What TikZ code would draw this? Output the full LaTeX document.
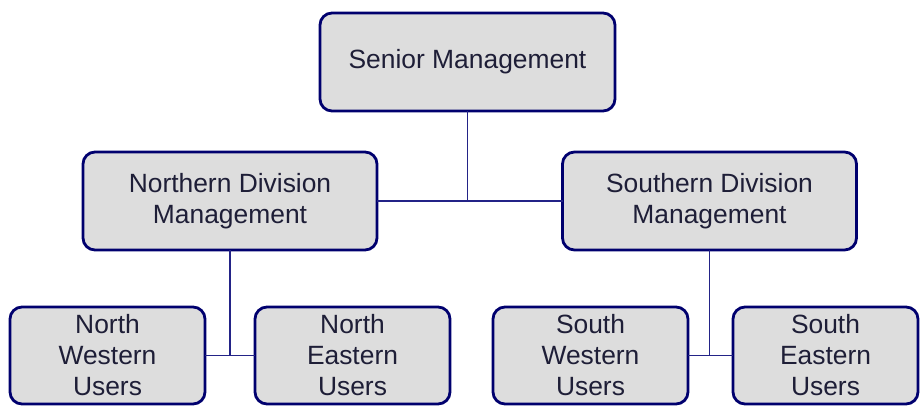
\documentclass[tikz,border=0pt]{standalone}
\usepackage{fontspec}
\setmainfont{Liberation Sans}
\definecolor{boxnavy}{RGB}{0,0,110}
\definecolor{linkblue}{RGB}{35,35,135}
\definecolor{boxgrey}{RGB}{221,221,221}
\definecolor{inkgrey}{RGB}{30,30,55}
\usetikzlibrary{positioning}

\begin{document}
\begin{tikzpicture}[
  orgbox/.style={draw=boxnavy, fill=boxgrey, line width=2.8pt, rounded corners=12pt,
    text=inkgrey, align=center, inner sep=0pt, outer sep=0pt,
    font=\fontsize{26.4}{31}\selectfont},
  topbox/.style={orgbox, minimum width=295pt, minimum height=98pt},
  divbox/.style={orgbox, minimum width=294pt, minimum height=98pt},
  userbox/.style={orgbox, minimum width=195pt, minimum height=97pt},
  link/.style={draw=linkblue, line width=1.8pt},
]
  \useasboundingbox (0,0) rectangle (921pt,-408pt);
  \node[topbox] (senior) at (467.5pt,-62pt) {Senior Management};
  \node[divbox, below=41pt of senior, xshift=-237.5pt] (north) {Northern Division\\Management};
  \node[divbox, below=41pt of senior, xshift=242pt] (south) {Southern Division\\Management};
  \node[userbox, below=57pt of north, xshift=-122.5pt] (nwest) {North\\Western\\Users};
  \node[userbox, right=50pt of nwest] (neast) {North\\Eastern\\Users};
  \node[userbox, below=57pt of south, xshift=-119pt] (swest) {South\\Western\\Users};
  \node[userbox, minimum width=185pt, right=45pt of swest] (seast) {South\\Eastern\\Users};
  \draw[link] (senior) -- (senior |- north.east);
  \draw[link] (north.east) -- (south.west);
  \draw[link] (north) -- (north |- nwest.east);
  \draw[link] (nwest.east) -- (neast.west);
  \draw[link] (south) -- (south |- swest.east);
  \draw[link] (swest.east) -- (seast.west);
\end{tikzpicture}
\end{document}
